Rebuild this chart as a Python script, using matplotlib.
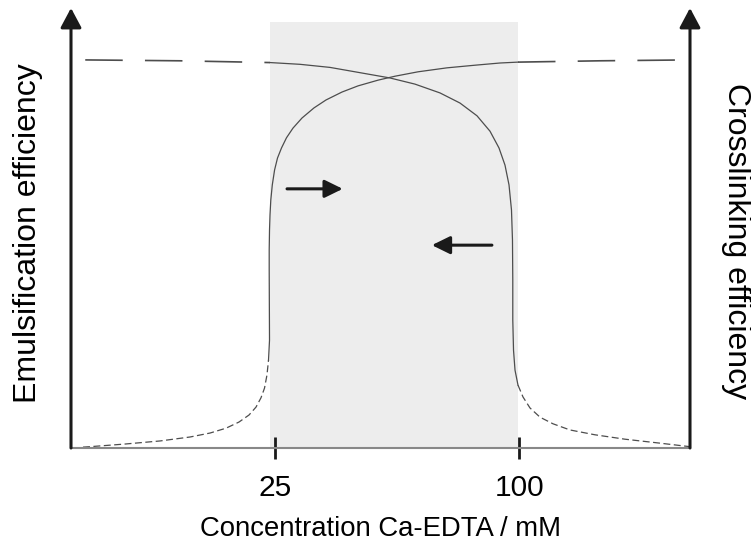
import matplotlib
matplotlib.use("Agg")
import matplotlib.pyplot as plt

plt.rcParams['font.family'] = ['Liberation Sans', 'DejaVu Sans']
plt.rcParams['lines.scale_dashes'] = False

# schematic position along the concentration axis (0 = left axis, 100 = right axis)
tick_pos = [33.0, 72.4]
tick_labels = ['25', '100']
window = [32.1, 72.2]          # shaded Ca-EDTA window
window_top = 96.8

# crosslinking efficiency (rising curve)
cross_tail_x = [1.94, 3.07, 8.72, 14.38, 19.23, 22.46, 25.04, 27.14, 28.76, 29.89,
                30.69, 31.26, 31.66, 31.91]
cross_tail_y = [0.2, 0.3, 0.9, 1.6, 2.5, 3.4, 4.5, 5.9, 7.5, 9.3,
                11.4, 13.6, 16.6, 20.0]
cross_body_x = [31.91, 32.07, 32.04, 32.02, 32.02, 32.07, 32.15, 32.28, 32.52, 32.89,
                33.36, 34.01, 34.81, 35.86, 37.32, 39.26, 41.20, 43.78, 46.37, 49.60,
                52.35, 56.07, 60.74, 65.27, 69.31, 72.21]
cross_body_y = [20.0, 24.5, 33.6, 40.5, 45.0, 49.5, 53.0, 56.4, 59.8, 63.2,
                65.9, 68.2, 70.5, 72.7, 75.0, 77.3, 79.1, 80.9, 82.3, 83.6,
                84.5, 85.5, 86.4, 87.0, 87.5, 87.7]
cross_end_x = [72.21, 85.5, 99.7]
cross_end_y = [87.7, 88.0, 88.2]

# emulsification efficiency (falling curve)
emul_tail_x = [2.3, 17.6, 32.15]
emul_tail_y = [88.2, 88.0, 87.6]
emul_body_x = [32.15, 37.00, 41.84, 46.69, 51.53, 55.57, 59.61, 62.84, 65.59, 67.69,
               69.14, 70.11, 70.76, 71.16, 71.32, 71.37, 71.37, 71.49, 71.73, 72.21]
emul_body_y = [87.6, 87.2, 86.5, 85.3, 84.1, 82.7, 80.7, 78.4, 75.5, 72.0,
               68.2, 64.3, 59.8, 54.1, 47.3, 38.2, 29.1, 22.2, 17.7, 14.3]
emul_end_x = [72.21, 73.02, 74.15, 75.77, 77.87, 80.61, 84.65, 89.50, 95.15, 100.0]
emul_end_y = [14.3, 11.6, 9.1, 7.0, 5.5, 4.1, 3.0, 2.0, 1.1, 0.3]

# direction arrows (start, end)
arrow_right = [(34.9, 58.9), (43.9, 58.9)]
arrow_left = [(68.0, 46.1), (58.3, 46.1)]

fig = plt.figure(figsize=(7.51, 5.46), dpi=100)
ax = fig.add_axes([71 / 751, 98 / 546, 619 / 751, 440 / 546])
ax.set_xlim(0, 100)
ax.set_ylim(0, 100)

ax.axvspan(window[0], window[1], ymax=window_top / 100, color='#ededed', lw=0, zorder=0)

curve_color = '#4d4d4d'
ax.plot(cross_tail_x, cross_tail_y, color=curve_color, lw=0.9, dashes=(5, 2.5))
ax.plot(cross_body_x, cross_body_y, color=curve_color, lw=0.9)
ax.plot(cross_end_x, cross_end_y, color=curve_color, lw=1.2, dashes=(27, 16))
ax.plot(emul_tail_x, emul_tail_y, color=curve_color, lw=1.2, dashes=(27, 16))
ax.plot(emul_body_x, emul_body_y, color=curve_color, lw=0.9)
ax.plot(emul_end_x, emul_end_y, color=curve_color, lw=0.9, dashes=(5, 2.5))

for (x0, y0), (x1, y1) in [arrow_right, arrow_left]:
    ax.annotate('', xy=(x1, y1), xytext=(x0, y0),
                arrowprops=dict(arrowstyle='-|>,head_length=0.55,head_width=0.27',
                                mutation_scale=20, lw=2.2, color='#1a1a1a',
                                shrinkA=0, shrinkB=0))

# vertical axes with arrow heads
for xa in [0, 100]:
    ax.annotate('', xy=(xa, 100), xytext=(xa, 0), xycoords='data',
                arrowprops=dict(arrowstyle='-|>,head_length=0.6,head_width=0.32',
                                mutation_scale=20, lw=2.2, color='#1a1a1a',
                                shrinkA=0, shrinkB=0), annotation_clip=False)

for s in ['top', 'left', 'right']:
    ax.spines[s].set_visible(False)
ax.spines['bottom'].set_color('#888888')
ax.spines['bottom'].set_linewidth(1.5)

ax.set_yticks([])
ax.set_xticks(tick_pos)
ax.set_xticklabels(tick_labels, fontsize=21.5)
ax.tick_params(axis='x', direction='inout', length=16, width=2, color='#1a1a1a', pad=11)

ax.set_xlabel('Concentration Ca-EDTA / mM', fontsize=19.8, labelpad=10)
fig.text(28 / 751, 1 - 233 / 546, 'Emulsification efficiency', rotation=90,
         fontsize=23, ha='center', va='center')
fig.text(736 / 751, 1 - 241 / 546, 'Crosslinking efficiency', rotation=-90,
         fontsize=23, ha='center', va='center')

fig.savefig('out.png', dpi=100)
